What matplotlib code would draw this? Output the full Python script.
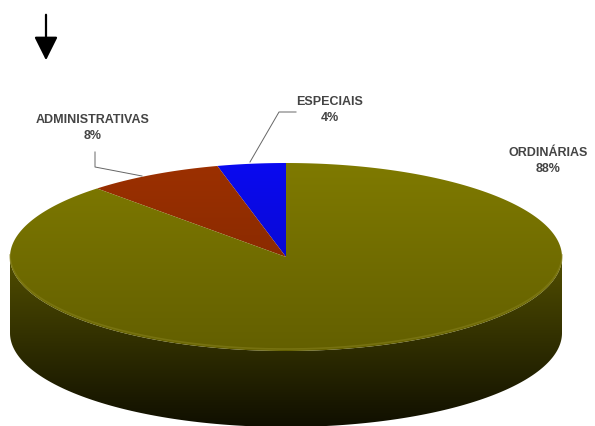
import numpy as np
import matplotlib.pyplot as plt
from matplotlib.patches import Polygon

# share of each category (%)
labels = ["ESPECIAIS", "ADMINISTRATIVAS", "ORDINÁRIAS"]
values = [4, 8, 88]
colors = ["#0a0af0", "#9c3000", "#7f7a00"]

# label text positions and leader lines (pixel coords)
label_pos = [(330, 110), (93, 128), (548, 161)]
leaders = [
    [(296, 112), (279, 112), (250, 162)],
    [(95, 152), (95, 167), (142, 176)],
    None,
]

# pie geometry in pixels
cx, cy = 286, 257
rx, ry = 276, 94
depth = 76

W, H = 595, 426
fig = plt.figure(figsize=(5.95, 4.26), dpi=100)
ax = fig.add_axes([0, 0, 1, 1])
ax.set_xlim(0, W)
ax.set_ylim(H, 0)
ax.axis("off")


def ell(t, dy=0):
    return np.column_stack([cx + rx * np.cos(t), cy - ry * np.sin(t) + dy])


def gradient_fill(path_pts, rgb, y0, y1, f0, f1, zorder):
    patch = Polygon(path_pts, closed=True, facecolor="none", edgecolor="none")
    ax.add_patch(patch)
    yy = np.arange(H)
    f = np.clip((yy - y0) / (y1 - y0), 0, 1)
    fac = f0 + (f1 - f0) * f
    img = np.ones((H, W, 3)) * np.array(rgb)[None, None, :]
    img = img * fac[:, None, None]
    im = ax.imshow(img, extent=(0, W, H, 0), aspect="auto", zorder=zorder,
                   interpolation="bilinear")
    im.set_clip_path(patch)


def to_rgb(c):
    c = c.lstrip("#")
    return [int(c[i:i + 2], 16) / 255 for i in (0, 2, 4)]


# slice angles: start at 12 o'clock, counter-clockwise
bounds = 90 + 360 * np.cumsum([0] + values) / 100.0

# side walls (only the front half is visible)
for i, col in enumerate(colors):
    a0, a1 = bounds[i], bounds[i + 1]
    segs = []
    for off in (0, 360):
        s0, s1 = max(a0, 180 + off), min(a1, 360 + off)
        if s1 > s0:
            segs.append((s0, s1))
    for s0, s1 in segs:
        t = np.radians(np.linspace(s0, s1, 200))
        pts = np.vstack([ell(t), ell(t[::-1], depth)])
        gradient_fill(pts, to_rgb(col), cy, cy + ry + depth, 0.64, 0.12, 2)

# top face
for i, col in enumerate(colors):
    a0, a1 = bounds[i], bounds[i + 1]
    t = np.radians(np.linspace(a0, a1, 300))
    pts = np.vstack([[cx, cy], ell(t)])
    gradient_fill(pts, to_rgb(col), cy - ry, cy + ry, 1.0, 0.78, 3)

# soft rim along the front edge of the top face
t = np.radians(np.linspace(180, 360, 200))
rim = ell(t)
ax.plot(rim[:, 0], rim[:, 1] - 2, color="#8a8420", lw=1.2, alpha=0.5, zorder=4)

# labels with leader lines
for lab, v, (x, y), ld in zip(labels, values, label_pos, leaders):
    ax.text(x, y, f"{lab}\n{v}%", ha="center", va="center", fontsize=9,
            fontweight="bold", family="Liberation Sans", color="#444444",
            linespacing=1.35, zorder=6)
    if ld is not None:
        ld = np.array(ld)
        ax.plot(ld[:, 0], ld[:, 1], color="#666666", lw=0.7, zorder=6)

# arrow in the top-left corner
ax.annotate("", xy=(46, 63), xytext=(46, 12),
            arrowprops=dict(arrowstyle="-|>,head_length=0.8,head_width=0.4",
                            mutation_scale=18, color="black", lw=1.6))

fig.savefig("out.png", dpi=100)
